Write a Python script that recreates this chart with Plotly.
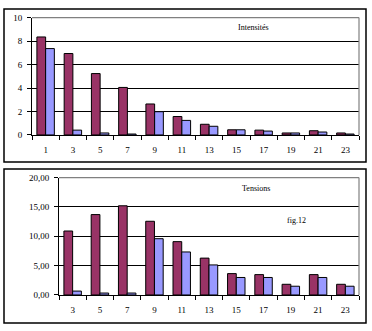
import plotly.graph_objects as go

# ---- data ----
rangs_i = ["1", "3", "5", "7", "9", "11", "13", "15", "17", "19", "21", "23"]
intens_a = [8.35, 6.94, 5.23, 4.05, 2.64, 1.57, 0.91, 0.44, 0.41, 0.17, 0.36, 0.17]
intens_b = [7.36, 0.41, 0.17, 0.08, 1.98, 1.24, 0.74, 0.44, 0.33, 0.17, 0.25, 0.08]

rangs_t = ["3", "5", "7", "9", "11", "13", "15", "17", "19", "21", "23"]
tens_a = [10.9, 13.7, 15.2, 12.56, 9.09, 6.28, 3.64, 3.47, 1.82, 3.47, 1.82]
tens_b = [0.66, 0.33, 0.33, 9.59, 7.33, 5.12, 2.98, 2.98, 1.49, 2.98, 1.49]

PURPLE = "#993366"
BLUE = "#9999FF"
W, H = 372, 331
FONT = dict(family="Liberation Serif", size=9, color="black")

def px(x):
    return x / W

def py(y):
    return 1 - y / H

fig = go.Figure()
mk = lambda c: dict(color=c, line=dict(color="black", width=1))
fig.add_trace(go.Bar(x=rangs_i, y=intens_a, marker=mk(PURPLE), xaxis="x", yaxis="y"))
fig.add_trace(go.Bar(x=rangs_i, y=intens_b, marker=mk(BLUE), xaxis="x", yaxis="y"))
fig.add_trace(go.Bar(x=rangs_t, y=tens_a, marker=mk(PURPLE), xaxis="x2", yaxis="y2"))
fig.add_trace(go.Bar(x=rangs_t, y=tens_b, marker=mk(BLUE), xaxis="x2", yaxis="y2"))

xcommon = dict(type="category", showline=True, linecolor="black", linewidth=1,
               ticks="outside", tickson="boundaries", ticklen=4, tickcolor="black",
               showgrid=False, tickfont=FONT, ticklabelstandoff=6, fixedrange=True)
ycommon = dict(showline=True, linecolor="black", linewidth=1, ticks="outside",
               ticklen=4, tickcolor="black", showgrid=True, gridcolor="black",
               gridwidth=1, zeroline=False, tickfont=FONT, ticklabelstandoff=3,
               fixedrange=True)

fig.update_layout(
    width=W, height=H, margin=dict(l=0, r=0, t=0, b=0),
    paper_bgcolor="white", plot_bgcolor="white",
    showlegend=False, barmode="group", bargap=0.36, bargroupgap=0,
    separators=", ",
    font=FONT,
    xaxis=dict(domain=[px(32), px(359)], anchor="y", **xcommon),
    yaxis=dict(domain=[py(134), py(13)], anchor="x", range=[0, 10], dtick=2,
               tickformat="d", **ycommon),
    xaxis2=dict(domain=[px(59), px(359)], anchor="y2", **xcommon),
    yaxis2=dict(domain=[py(299), py(178)], anchor="x2", range=[0, 20], dtick=5,
                tickformat=".2f", **ycommon),
)

shapes = []
# outer frames
for (y0, y1) in [(4, 162), (169, 328)]:
    shapes.append(dict(type="rect", xref="paper", yref="paper",
                       x0=px(4), x1=px(366), y0=py(y1), y1=py(y0),
                       line=dict(color="black", width=1.5)))
# gray top & right borders of plot areas
for xa, ya in [("x", "y"), ("x2", "y2")]:
    shapes.append(dict(type="line", xref=f"{xa} domain", yref=f"{ya} domain",
                       x0=0, x1=1, y0=1, y1=1, line=dict(color="#808080", width=1.2)))
    shapes.append(dict(type="line", xref=f"{xa} domain", yref=f"{ya} domain",
                       x0=1, x1=1, y0=0, y1=1, line=dict(color="#808080", width=1.2)))
fig.update_layout(shapes=shapes)

ann_font = dict(family="Liberation Serif", size=8, color="black")
fig.update_layout(annotations=[
    dict(text="Intensités", x=px(254), y=py(23), xref="paper", yref="paper",
         xanchor="center", yanchor="middle", showarrow=False, font=ann_font),
    dict(text="Tensions", x=px(256), y=py(189), xref="paper", yref="paper",
         xanchor="center", yanchor="middle", showarrow=False, font=ann_font),
    dict(text="fig.12", x=px(296), y=py(222), xref="paper", yref="paper",
         xanchor="center", yanchor="middle", showarrow=False, font=ann_font),
])

fig.write_html("out.html")
